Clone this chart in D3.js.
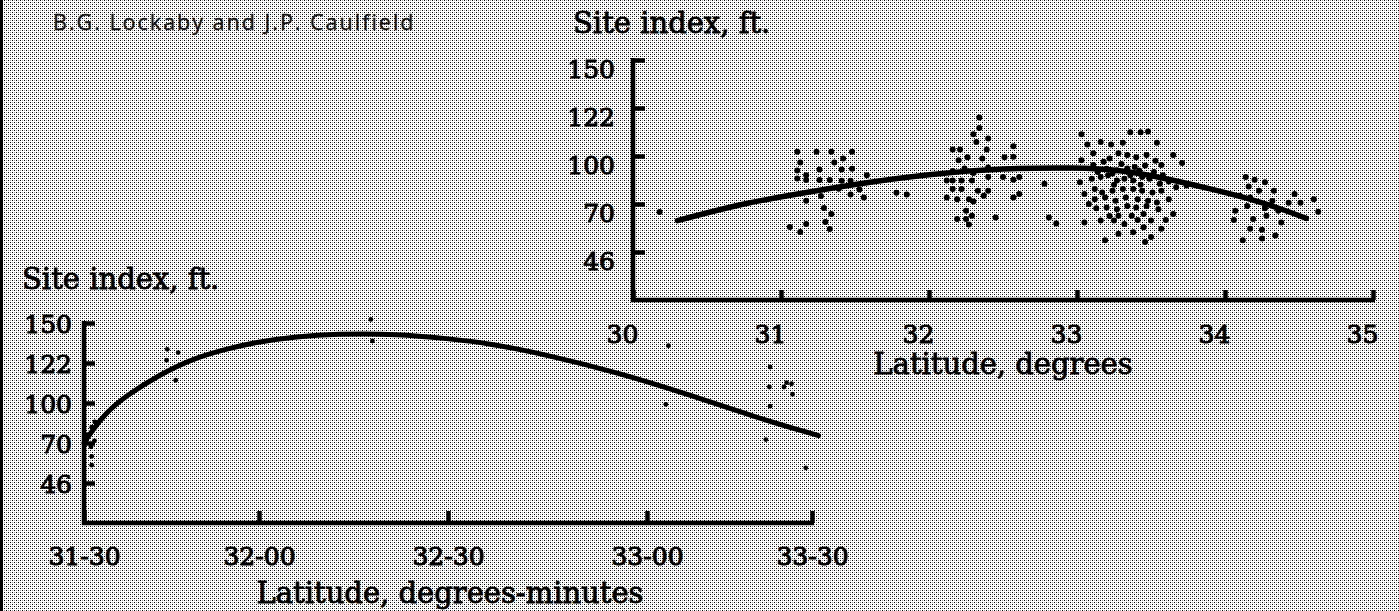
<!DOCTYPE html>
<html><head><meta charset="utf-8">
<script src="https://cdn.jsdelivr.net/npm/d3@7"></script>
<style>html,body{margin:0;padding:0;background:#fff;overflow:hidden}</style>
</head><body><svg id="c" width="1399" height="611"></svg>
<script>
// ---------------- data ----------------
const authorText = "B.G. Lockaby and J.P. Caulfield";
const yTitleText = "Site index, ft.";
const topXTitle = "Latitude, degrees";
const botXTitle = "Latitude, degrees-minutes";

const siteIndexTicks = [46, 70, 100, 122, 150];
const topLatTicks = [30, 31, 32, 33, 34, 35];
const botLatTicks = [31.5, 32, 32.5, 33, 33.5];
const botLatLabels = ["31-30", "32-00", "32-30", "33-00", "33-30"];

// top chart: fitted curve
const topCurveLat = [30.30, 30.70, 31.00, 31.50, 32.00, 32.50, 33.00, 33.30, 33.60, 33.90, 34.20, 34.40, 34.55];
const topCurveSI  = [61.7, 69.5, 74.5, 82.5, 88.8, 92.3, 92.8, 91.2, 86.0, 79.5, 72.5, 67.0, 62.8];

// top chart: observations [latitude, site index]
const topPoints = [
  [30.18,66],
  // ~31 deg group
  [31.11,102],[31.24,102],[31.34,102],[31.48,102],[31.13,96],[31.36,96],[31.42,98.5],
  [31.26,91.5],[31.41,91.5],[31.48,92],[31.11,91],[31.17,88],[31.17,85],[31.11,86],
  [31.26,85],[31.33,85],[31.41,84.5],[31.47,84.5],[31.58,88],[31.53,79],[31.47,76],
  [31.56,74],[31.27,75],[31.17,72],[31.29,68],[31.34,65],[31.30,61],[31.33,57.5],
  [31.06,58.5],[31.13,56],[31.17,60],[31.78,77],[31.85,76],[31.39,79.5],
  // ~32 deg group
  [32.34,117.6],[32.34,112.8],[32.32,106.4],[32.30,110],[32.40,108],[32.39,103],[32.36,98.5],
  [32.16,103],[32.21,103],[32.20,97.4],[32.26,99.2],[32.57,104.5],[32.51,99.2],[32.57,99.6],
  [32.16,90.6],[32.24,92.2],[32.30,89.3],[32.40,92.8],[32.12,84.7],[32.16,84.7],[32.22,84.7],
  [32.29,84.7],[32.40,86.8],[32.50,86.8],[32.57,85.1],[32.61,86.8],[32.16,79.4],[32.22,79.4],
  [32.33,78.3],[32.37,75.1],[32.40,78.3],[32.12,74],[32.19,73],[32.27,73],[32.30,71.5],
  [32.57,74],[32.61,76.2],[32.25,66.6],[32.29,64.1],[32.25,62.5],[32.19,62.5],[32.27,59.7],
  [32.45,63.3],[32.78,82.6],[32.81,63.3],[32.86,60.3],
  // ~33 deg group
  [33.03,110],[33.07,105.3],[33.11,101.3],[33.16,106.4],[33.23,105.3],[33.31,106.1],
  [33.36,110.9],[33.43,110.9],[33.48,111.2],[33.54,106.1],[33.65,100.5],[33.71,95.7],
  [33.03,97.4],[33.11,94.3],[33.18,96.4],[33.22,98.5],[33.28,101.3],[33.34,100.5],
  [33.40,99.2],[33.47,100.5],[33.57,94.3],[33.27,91.1],[33.34,92.2],[33.39,93.2],
  [33.02,83.6],[33.10,85.8],[33.16,86.8],[33.21,88],[33.27,84.7],[33.32,85.8],[33.38,84.7],
  [33.44,86.8],[33.49,85.8],[33.56,82.6],[33.67,80.4],[33.74,81.5],
  [33.05,76.2],[33.12,79.4],[33.17,77.2],[33.24,78.3],[33.31,79.4],[33.38,79.4],[33.44,78.3],
  [33.51,77.2],[33.57,78.3],[33.13,67.9],[33.20,68.2],[33.27,67.4],[33.34,69],[33.40,68.2],
  [33.47,69],[33.55,67.4],[33.62,73],[33.65,65],[33.16,61.7],[33.25,61.7],[33.28,64.1],
  [33.37,64.1],[33.45,65],[33.50,61.7],[33.57,57.6],[33.05,60.8],[33.19,51.9],[33.28,55.1],
  [33.38,55.9],[33.45,58.4],[33.46,51],[33.50,53.5],
  [33.14,90],[33.20,92],[33.24,89],[33.30,95],[33.36,88],[33.42,91],[33.46,94],[33.52,90],
  [33.58,88],[33.12,73],[33.19,74],[33.26,72],[33.33,74],[33.41,73],[33.48,72],[33.54,71],
  [33.22,64],[33.32,60],[33.41,62],[33.60,62],[33.08,70],[33.62,84],[33.53,97],[33.25,82],[33.43,82],
  // ~34 deg group
  [34.14,86.8],[34.20,85.1],[34.27,83.6],[34.16,80.9],[34.23,78.3],[34.33,78.3],[34.10,75.1],
  [34.17,74],[34.47,76.2],[34.43,70.8],[34.51,70.8],[34.60,73],[34.63,66.1],[34.07,66.6],
  [34.15,69],[34.27,67.9],[34.32,71.9],[34.36,66.6],[34.06,62],[34.19,62.5],[34.28,64.1],
  [34.38,60.8],[34.17,57.6],[34.25,57.1],[34.12,51.9],[34.25,52.7],[34.34,54.3]
];

// bottom chart: fitted curve
const botCurveLat = [31.50, 31.52, 31.56, 31.62, 31.72, 31.81, 31.91, 32.00, 32.10, 32.20, 32.37, 32.50, 32.60, 32.76, 32.93, 33.12, 33.32, 33.52];
const botCurveSI  = [70, 78, 92, 104, 116, 125, 132, 137, 140.5, 142.4, 142.4, 139, 136, 127, 116.5, 105, 90, 75.5];

// bottom chart: observations [latitude, site index]
const botPoints = [
  [32.296,152.5],[32.30,137.4],[31.738,131.6],[31.769,129.3],[31.736,124],[31.762,112.5],
  [31.531,85.8],[31.522,81.8],[31.51,76.3],[31.53,71.6],[31.52,67.7],[31.522,62],[31.522,56.7],
  [33.065,134.1],[33.057,99],[33.373,119.8],[33.371,108.8],[33.415,108.8],[33.423,111.2],
  [33.438,110.6],[33.441,104.8],[33.373,97.6],[33.36,72.6],[33.481,55.1]
];

// ---------------- layout ----------------
const W = 1399, H = 611;
const serif = "'DejaVu Serif', serif";
const svg = d3.select("#c");

const defs = svg.append("defs");
const pat = defs.append("pattern").attr("id", "ht").attr("width", 4).attr("height", 4)
  .attr("patternUnits", "userSpaceOnUse");
pat.append("rect").attr("width", 4).attr("height", 4).attr("fill", "#fff");
[[0, 0, "#000"], [2, 2, "#000"], [2, 0, "#999"], [0, 2, "#999"]].forEach(([px, py, c]) =>
  pat.append("rect").attr("x", px).attr("y", py).attr("width", 1).attr("height", 1)
    .attr("fill", c).attr("shape-rendering", "crispEdges"));

svg.append("rect").attr("width", W).attr("height", H).attr("fill", "url(#ht)");
svg.append("rect").attr("x", 0).attr("y", 0).attr("width", 3).attr("height", H).attr("fill", "#000");

svg.append("text").attr("x", 53).attr("y", 30).text(authorText)
  .attr("font-family", "'Open Sans', sans-serif").attr("font-size", 21.5)
  .attr("letter-spacing", 2).attr("fill", "#111").attr("stroke", "#111").attr("stroke-width", 0.3);

function evenRange(bottom, top, n) {
  const step = (bottom - top) / n;
  return d3.range(n).map(i => bottom - step * (i + 1));
}

function heavy(sel, w) {
  return sel.attr("fill", "#000").attr("stroke", "#000").attr("stroke-width", w);
}

function drawChart(o) {
  const g = svg.append("g");
  const y = d3.scaleLinear().domain(siteIndexTicks).range(evenRange(o.bottom, o.top, siteIndexTicks.length));
  const x = d3.scaleLinear().domain(o.xDomain).range(o.xRange);

  heavy(g.append("text").attr("x", o.titleX).attr("y", o.titleY).text(yTitleText)
    .attr("font-family", serif).attr("font-size", 29), 0.8);

  const ya = g.append("g").attr("transform", `translate(${o.left},0)`)
    .call(d3.axisLeft(y).tickValues(siteIndexTicks).tickSize(-o.yTick).tickPadding(o.yPad).tickSizeOuter(0));
  ya.select(".domain").remove();
  ya.selectAll(".tick line").attr("stroke", "#000").attr("stroke-width", 4.5);
  heavy(ya.selectAll(".tick text").attr("font-family", serif).attr("font-size", 25), 1)
    .attr("dy", o.yDy);

  const xa = g.append("g").attr("transform", `translate(0,${o.bottom})`)
    .call(d3.axisBottom(x).tickValues(o.xTicks).tickFormat((d, i) => o.xLabels[i])
      .tickSize(-o.xTick).tickPadding(o.xPad).tickSizeOuter(0));
  xa.select(".domain").remove();
  xa.selectAll(".tick line").attr("stroke", "#000").attr("stroke-width", 4.5);
  heavy(xa.selectAll(".tick text").attr("font-family", serif).attr("font-size", 25), 1)
    .attr("dx", o.xDx);

  const x0 = x(o.xDomain[0]), x1 = x(o.xDomain[o.xDomain.length - 1]);
  g.append("path").attr("d", `M${x0},${o.top - 2}V${o.bottom}H${x1 + 2}`)
    .attr("fill", "none").attr("stroke", "#000").attr("stroke-width", 4.5);

  heavy(g.append("text").attr("x", o.xTitleX).attr("y", o.xTitleY).attr("text-anchor", "middle")
    .text(o.xTitle).attr("font-family", serif).attr("font-size", 29), 0.8);

  const line = d3.line().x(d => x(d[0])).y(d => y(d[1])).curve(d3.curveBasis);
  g.append("path").attr("d", line(d3.zip(o.curveLat, o.curveSI)))
    .attr("fill", "none").attr("stroke", "#000").attr("stroke-width", o.curveW)
    .attr("stroke-linecap", "round");

  g.append("g").selectAll("circle").data(o.points).join("circle")
    .attr("cx", d => x(d[0])).attr("cy", d => y(d[1])).attr("r", o.r).attr("fill", "#000");
}

drawChart({
  left: 633, top: 60, bottom: 300,
  xDomain: [30, 35], xRange: [633, 1373],
  xTicks: topLatTicks, xLabels: topLatTicks.map(String),
  yTick: 12, yPad: 18, yDy: "17px", xTick: 10, xPad: 25, xDx: -11,
  titleX: 573, titleY: 33, xTitle: topXTitle, xTitleX: 1003, xTitleY: 374,
  curveLat: topCurveLat, curveSI: topCurveSI, curveW: 5.5, points: topPoints, r: 3
});

drawChart({
  left: 84, top: 323, bottom: 523,
  xDomain: botLatTicks, xRange: [84, 259, 448, 647, 812],
  xTicks: botLatTicks, xLabels: botLatLabels,
  yTick: 11, yPad: 12, yDy: "0.36em", xTick: 12, xPad: 24, xDx: 0,
  titleX: 22, titleY: 289, xTitle: botXTitle, xTitleX: 450, xTitleY: 603,
  curveLat: botCurveLat, curveSI: botCurveSI, curveW: 5, points: botPoints, r: 2.4
});
</script></body></html>
